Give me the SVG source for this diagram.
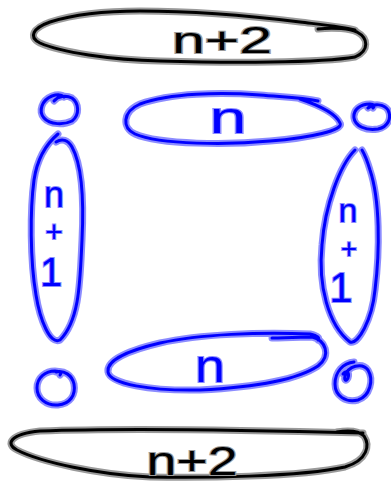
<svg xmlns="http://www.w3.org/2000/svg" xmlns:xlink="http://www.w3.org/1999/xlink" width="391" height="484" viewBox="0 0 391 484">
<style>
.halo-k{fill:none;stroke:#9a9a9a;stroke-width:7;stroke-linecap:round;stroke-linejoin:round}
.core-k{fill:none;stroke:#000;stroke-width:3;stroke-linecap:round;stroke-linejoin:round}
.halo-b{fill:none;stroke:#8c8cff;stroke-width:7;stroke-linecap:round;stroke-linejoin:round}
.core-b{fill:none;stroke:#0000ff;stroke-width:3;stroke-linecap:round;stroke-linejoin:round}
.tk{font-family:"Liberation Sans","DejaVu Sans",sans-serif;fill:#000;stroke:#9a9a9a;stroke-width:2;paint-order:stroke;text-anchor:middle}
.tb{font-family:"Liberation Sans","DejaVu Sans",sans-serif;fill:#0000ff;stroke:#8c8cff;stroke-width:2;paint-order:stroke;text-anchor:middle}
</style>
<defs>
<path id="pTop" d="M318,29 C335,27 350,29 357,32 C368,38 370,50 355,57 C320,63 230,63 160,61 C110,60 60,52 40,43 C28,37 33,28 50,22 C75,14 110,11 140,11 C200,11 260,17 300,22 C325,25 345,27 355,30"/>
<path id="pBot" d="M337,432 C350,430 360,432 364,436 C370,445 368,460 345,467 C300,477 200,478 150,477 C100,475 40,462 17,450 C5,444 10,434 40,431 C120,428 250,430 363,433"/>
<path id="pMidT" d="M318,101 C300,97 280,97 260,95 C220,92 170,93 140,104 C122,112 122,128 135,134 C160,145 230,145 270,141 C310,138 345,130 340,123 C335,112 315,104 300,99"/>
<path id="pMidB" d="M272,338 C290,338 305,337 312,337 C325,340 332,355 318,366 C300,378 260,387 200,390 C150,391 110,384 108,372 C106,360 130,350 160,343 C200,334 260,332 310,334 C318,336 320,338 318,340"/>
<path id="pLeft" d="M56,142 C62,138 68,140 72,147 C82,165 84,200 82,240 C80,280 80,320 60,340 C50,345 40,320 36,295 C30,260 30,210 34,180 C37,160 45,145 58,134"/>
<path id="pRight" d="M355,150 C340,165 325,205 322,245 C318,285 328,325 350,342 C358,345 372,320 375,290 C380,250 380,200 370,170 C367,160 365,155 362,150"/>
<path id="cLT" d="M54,101 C58,96 66,95 72,98 C79,103 80,115 72,121 C64,125 50,125 44,118 C38,111 42,100 52,96 C58,94 62,95 64,97"/>
<path id="cLB" d="M56,372 C64,370 72,375 74,384 C76,395 70,404 58,405 C46,406 37,398 37,388 C37,377 46,371 55,371 C60,371 62,373 60,375"/>
<path id="cRT" d="M368,108 C374,103 384,104 388,110 C392,118 388,127 378,129 C366,131 355,126 354,118 C353,110 360,104 370,104 C374,104 375,106 373,108"/>
<path id="cRB" d="M343,374 C346,370 350,372 348,378 C346,382 344,380 345,376 C348,366 362,362 368,370 C374,380 370,396 358,400 C346,403 335,396 335,384 C335,372 343,363 354,362"/>
</defs>
<g id="top-n2">
<use xlink:href="#pTop" class="halo-k"/><use xlink:href="#pTop" class="core-k"/>
<text class="tk" x="222" y="53" font-size="36" textLength="100" lengthAdjust="spacingAndGlyphs">n+2</text>
</g>
<g id="bottom-n2">
<use xlink:href="#pBot" class="halo-k"/><use xlink:href="#pBot" class="core-k"/>
<text class="tk" x="192" y="475" font-size="40" textLength="91" lengthAdjust="spacingAndGlyphs">n+2</text>
</g>
<g id="top-n">
<use xlink:href="#pMidT" class="halo-b"/><use xlink:href="#pMidT" class="core-b"/>
<text class="tb" x="228" y="133" font-size="44" textLength="37" lengthAdjust="spacingAndGlyphs">n</text>
</g>
<g id="bottom-n">
<use xlink:href="#pMidB" class="halo-b"/><use xlink:href="#pMidB" class="core-b"/>
<text class="tb" x="210" y="382" font-size="46" textLength="30" lengthAdjust="spacingAndGlyphs">n</text>
</g>
<g id="left-n1">
<use xlink:href="#pLeft" class="halo-b"/><use xlink:href="#pLeft" class="core-b"/>
<text class="tb"><tspan x="54" y="207" font-size="36">n</tspan><tspan x="54" y="242" font-size="30">+</tspan><tspan x="51" y="286" font-size="40">1</tspan></text>
</g>
<g id="right-n1">
<use xlink:href="#pRight" class="halo-b"/><use xlink:href="#pRight" class="core-b"/>
<text class="tb"><tspan x="348" y="222" font-size="34">n</tspan><tspan x="349" y="258" font-size="28">+</tspan><tspan x="341" y="302" font-size="42">1</tspan></text>
</g>
<g id="corner-tl"><use xlink:href="#cLT" class="halo-b"/><use xlink:href="#cLT" class="core-b"/></g>
<g id="corner-bl"><use xlink:href="#cLB" class="halo-b"/><use xlink:href="#cLB" class="core-b"/></g>
<g id="corner-tr"><use xlink:href="#cRT" class="halo-b"/><use xlink:href="#cRT" class="core-b"/></g>
<g id="corner-br"><use xlink:href="#cRB" class="halo-b"/><use xlink:href="#cRB" class="core-b"/></g>
</svg>
